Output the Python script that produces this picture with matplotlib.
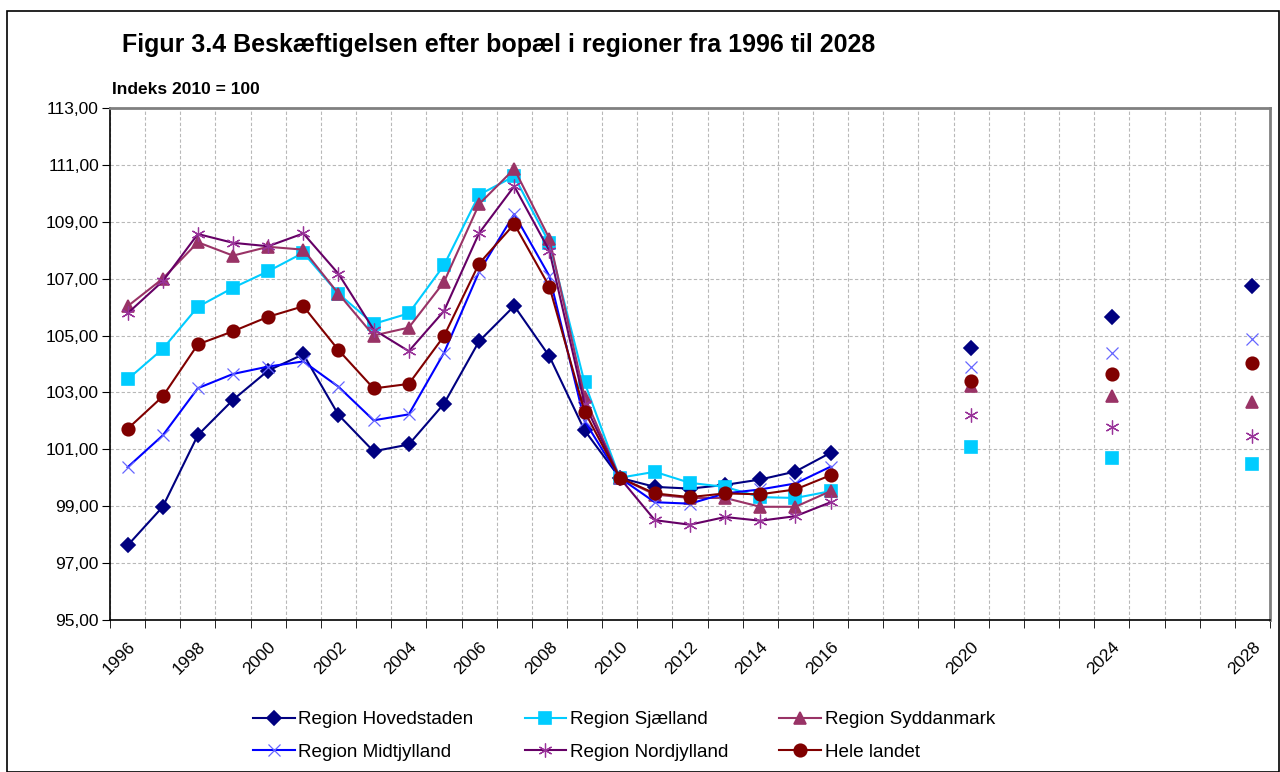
import numpy as np
import matplotlib
matplotlib.use("Agg")
import matplotlib.pyplot as plt
from matplotlib.patches import Rectangle

plt.rcParams['font.family'] = ['Liberation Sans', 'DejaVu Sans']

# years on the category axis (1996..2028), projections only every 4th year
years = list(range(1996, 2029))
hist_years = list(range(1996, 2017))
proj_years = [2020, 2024, 2028]
label_years = list(range(1996, 2017, 2)) + [2020, 2024, 2028]

hovedstaden = [97.62, 98.98, 101.5, 102.74, 103.77, 104.34, 102.21, 100.93, 101.17, 102.6,
               104.8, 106.04, 104.27, 101.67, 100.0, 99.68, 99.62, 99.75, 99.94, 100.22, 100.88]
sjaelland = [103.46, 104.53, 106.01, 106.68, 107.26, 107.91, 106.47, 105.41, 105.78, 107.47,
             109.95, 110.6, 108.25, 103.35, 100.0, 100.21, 99.82, 99.68, 99.32, 99.29, 99.53]
syddanmark = [106.03, 107.0, 108.28, 107.81, 108.12, 108.02, 106.47, 105.0, 105.28, 106.88,
              109.62, 110.86, 108.41, 102.85, 100.0, 99.41, 99.29, 99.29, 98.98, 98.98, 99.53]
midtjylland = [100.37, 101.49, 103.15, 103.65, 103.91, 104.09, 103.2, 102.02, 102.23, 104.39,
               107.24, 109.27, 107.09, 102.0, 100.0, 99.14, 99.09, 99.45, 99.59, 99.8, 100.39]
nordjylland = [105.78, 106.91, 108.57, 108.26, 108.14, 108.59, 107.17, 105.21, 104.45, 105.86,
               108.6, 110.25, 107.98, 102.6, 100.0, 98.51, 98.35, 98.62, 98.49, 98.65, 99.14]
hele_landet = [101.72, 102.86, 104.69, 105.15, 105.66, 106.03, 104.49, 103.14, 103.3, 104.98,
               107.53, 108.92, 106.72, 102.33, 100.0, 99.45, 99.32, 99.45, 99.42, 99.59, 100.09]

# projections for 2020, 2024, 2028
hovedstaden_proj = [104.56, 105.65, 106.73]
sjaelland_proj = [101.09, 100.69, 100.48]
syddanmark_proj = [103.22, 102.87, 102.65]
midtjylland_proj = [103.88, 104.38, 104.89]
nordjylland_proj = [102.19, 101.78, 101.46]
hele_landet_proj = [103.39, 103.66, 104.05]

series = [
    ("Region Hovedstaden", hovedstaden, hovedstaden_proj, "#000080", "#000080", "D", 7, 1.2),
    ("Region Sjælland", sjaelland, sjaelland_proj, "#00CCFF", "#00CCFF", "s", 9, 1.2),
    ("Region Syddanmark", syddanmark, syddanmark_proj, "#993366", "#993366", "^", 9, 1.2),
    ("Region Midtjylland", midtjylland, midtjylland_proj, "#0000FF", "#6666FF", "x", 9, 0.9),
    ("Region Nordjylland", nordjylland, nordjylland_proj, "#660066", "#993399", (6, 2, 0), 10, 0.9),
    ("Hele landet", hele_landet, hele_landet_proj, "#800000", "#800000", "o", 9, 1.2),
]

fig = plt.figure(figsize=(12.8, 7.72), dpi=100)
ax = fig.add_axes([110 / 1280, 1 - 620 / 772, 1160 / 1280, 512 / 772])

pos = {y: i + 0.5 for i, y in enumerate(years)}
hx = [pos[y] for y in hist_years]
px = [pos[y] for y in proj_years]

handles = {}
for name, hist, proj, lc, mc, mk, ms, mew in series:
    h, = ax.plot(hx, hist, color=lc, lw=1.5, marker=mk, ms=ms, mfc=mc, mec=mc,
                 mew=mew, label=name)
    ax.plot(px, proj, ls="none", marker=mk, ms=ms, mfc=mc, mec=mc, mew=mew)
    handles[name] = h

ax.set_xlim(0, len(years))
ax.set_ylim(95, 113)
ax.set_yticks(np.arange(95, 113.1, 2))
ax.set_yticklabels([f"{v:.2f}".replace(".", ",") for v in np.arange(95, 113.1, 2)],
                   fontsize=12.5)

ax.set_xticks(range(len(years) + 1), minor=True)
ax.set_xticks([pos[y] for y in label_years])
ax.set_xticklabels([str(y) for y in label_years], rotation=45, ha="right",
                   rotation_mode="anchor", fontsize=12.5)
ax.tick_params(axis="x", which="major", length=0, pad=14)
ax.tick_params(axis="x", which="minor", length=6, direction="out", color="black")
ax.tick_params(axis="y", length=6, direction="out", pad=2)

ax.grid(True, axis="y", which="major", color="#b8b8b8", ls=(0, (3, 2)), lw=0.8)
ax.grid(True, axis="x", which="minor", color="#b8b8b8", ls=(0, (3, 2)), lw=0.8)
ax.set_axisbelow(True)

for s in ["top", "right"]:
    ax.spines[s].set_color("#808080")
    ax.spines[s].set_linewidth(2)
for s in ["left", "bottom"]:
    ax.spines[s].set_color("black")
    ax.spines[s].set_linewidth(1.2)

fig.text(122 / 1280, 1 - 45 / 772, "Figur 3.4 Beskæftigelsen efter bopæl i regioner fra 1996 til 2028",
         fontsize=18, fontweight="bold", va="center")
fig.text(112 / 1280, 1 - 90 / 772, "Indeks 2010 = 100", fontsize=12.5, fontweight="bold",
         va="center")

order = ["Region Hovedstaden", "Region Midtjylland", "Region Sjælland",
         "Region Nordjylland", "Region Syddanmark", "Hele landet"]
fig.legend([handles[n] for n in order], order, ncol=3, frameon=False,
           loc="center left", bbox_to_anchor=(236 / 1280, 1 - 736 / 772),
           fontsize=13.6, handlelength=2.2, handletextpad=0.2, columnspacing=2.7,
           labelspacing=0.8)

fig.patches.append(Rectangle((7 / 1280, 0), 1272 / 1280, 1 - 11 / 772,
                             transform=fig.transFigure, fill=False, ec="black", lw=1.2))

fig.savefig("out.png", dpi=100)
